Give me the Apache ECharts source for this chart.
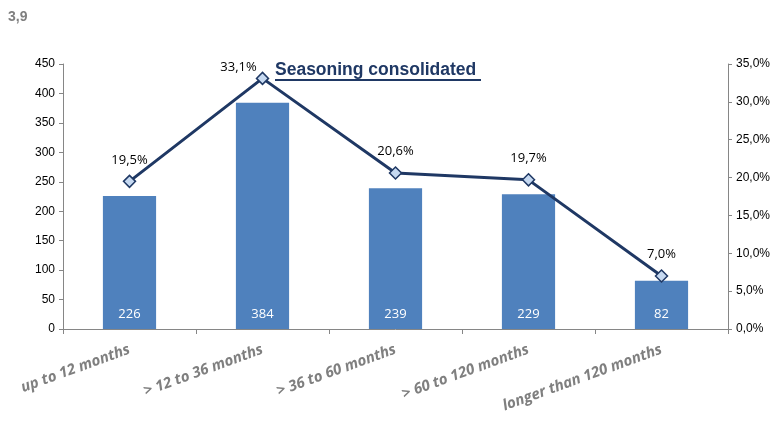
<!DOCTYPE html>
<html lang="en">
<head>
    <meta charset="UTF-8">
    <title>Seasoning</title>
</head>
<script src="https://cdn.jsdelivr.net/npm/echarts@6/dist/echarts.min.js"></script>
<body style="margin:0">
    <div id="main" style="width: 779px;height:424px;"></div>
    <script type="text/javascript">
       var categories = ['up to 12 months', '> 12 to 36 months', '> 36 to 60 months', '> 60 to 120 months', 'longer than 120 months'];
       var amounts = [226, 384, 239, 229, 82];
       var shares = [0.195, 0.331, 0.206, 0.197, 0.070];
       var leftTicks = {min: 0, max: 450, interval: 50};
       var rightTicks = {min: 0, max: 0.35, interval: 0.05};

       var myChart = echarts.init(document.getElementById('main'));

       function pct(v) {
           return (v * 100).toFixed(1).replace('.', ',') + '%';
       }

       var axisGray = '#868686';

       // the peak label sits left of its marker in the original
       var lineData = shares.map(function (v, i) {
           if (i === 1) return {value: v, label: {offset: [-24, 10]}};
           return v;
       });

       var option = {
           animation: false,
           grid: {left: 63, right: 51, top: 64, bottom: 95},
           graphic: [
               {type: 'text', left: 8, top: 10,
                style: {text: '3,9', fill: '#7f7f7f', font: 'bold 14px Arial'}},
               {type: 'text', left: 275, top: 61,
                style: {text: 'Seasoning consolidated', fill: '#1f3864', font: 'bold 17.5px Arial'}},
               {type: 'rect', left: 275, top: 79, shape: {width: 206, height: 2},
                style: {fill: '#1f3864'}}
           ],
           xAxis: {
               type: 'category',
               data: categories,
               axisLine: {lineStyle: {color: axisGray}},
               axisTick: {show: true, alignWithLabel: false, length: 5, lineStyle: {color: axisGray}},
               axisLabel: {
                   rotate: 20, interval: 0, margin: 20,
                   color: '#7f7f7f', fontStyle: 'italic', fontWeight: 'bold', fontSize: 15,
                   fontFamily: '"Liberation Sans Narrow", "Open Sans", sans-serif'
               }
           },
           yAxis: [
               {
                   type: 'value', min: leftTicks.min, max: leftTicks.max, interval: leftTicks.interval,
                   axisLine: {show: true, lineStyle: {color: axisGray}},
                   axisTick: {show: true, length: 4, lineStyle: {color: axisGray}},
                   splitLine: {show: false},
                   axisLabel: {color: '#000', fontSize: 12, fontFamily: 'Arial', margin: 8}
               },
               {
                   type: 'value', min: rightTicks.min, max: rightTicks.max, interval: rightTicks.interval,
                   axisLine: {show: true, lineStyle: {color: axisGray}},
                   axisTick: {show: true, length: 4, lineStyle: {color: axisGray}},
                   splitLine: {show: false},
                   axisLabel: {color: '#000', fontSize: 12, fontFamily: 'Arial', margin: 8, formatter: pct}
               }
           ],
           series: [
               {
                   type: 'bar',
                   data: amounts,
                   barWidth: '40%',
                   itemStyle: {color: '#4f81bd'},
                   label: {
                       show: true, position: 'insideBottom', distance: 8,
                       color: '#fff', fontSize: 13, fontFamily: '"Open Sans", sans-serif'
                   }
               },
               {
                   type: 'line',
                   yAxisIndex: 1,
                   data: lineData,
                   symbol: 'diamond',
                   symbolSize: 12,
                   lineStyle: {color: '#1f3864', width: 3},
                   itemStyle: {color: '#c6d9f1', borderColor: '#1f3864', borderWidth: 1.5},
                   label: {
                       show: true, position: 'top', distance: 8,
                       color: '#000', fontSize: 13, fontFamily: '"Open Sans", sans-serif',
                       formatter: function (p) { return pct(p.value); }
                   },
                   z: 5
               }
           ]
       };

       myChart.setOption(option);
    </script>
</body>
</html>
